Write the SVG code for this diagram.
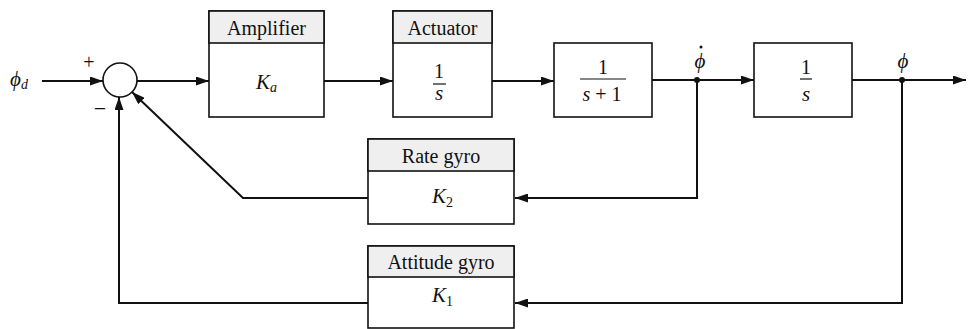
<svg xmlns="http://www.w3.org/2000/svg" width="972" height="329" viewBox="0 0 972 329">
<defs>
<marker id="arr" viewBox="0 0 13 9" refX="13" refY="4.5" markerWidth="13" markerHeight="9" markerUnits="userSpaceOnUse" orient="auto">
<path d="M0,0 L13,4.5 L0,9 z" fill="#111"/>
</marker>
</defs>
<style>
.box{fill:#fff;stroke:#111;stroke-width:1.6}
.hdr{fill:#efefef;stroke:#111;stroke-width:1.6}
.ln{fill:none;stroke:#111;stroke-width:2}
.lbl{font-family:"Liberation Serif","Times New Roman",serif;font-size:20px;fill:#111;text-anchor:middle}
.math{font-family:"Liberation Serif","Times New Roman",serif;font-size:21px;font-style:italic;fill:#111}
.num{font-family:"Liberation Serif","Times New Roman",serif;font-size:20px;fill:#111;text-anchor:middle}
.sub{font-size:14px}
.frac{stroke:#111;stroke-width:1.2}
</style>
<rect width="972" height="329" fill="#fff"/>

<g id="connectors">
<line class="ln" x1="42" y1="81" x2="103" y2="81" marker-end="url(#arr)"/>
<line class="ln" x1="137" y1="81" x2="209" y2="81" marker-end="url(#arr)"/>
<line class="ln" x1="324" y1="81" x2="393" y2="81" marker-end="url(#arr)"/>
<line class="ln" x1="492" y1="81" x2="554" y2="81" marker-end="url(#arr)"/>
<line class="ln" x1="652" y1="80" x2="754" y2="80" marker-end="url(#arr)"/>
<line class="ln" x1="852" y1="80" x2="966" y2="80" marker-end="url(#arr)"/>
<polyline class="ln" points="697,80 697,198 515,198" marker-end="url(#arr)"/>
<polyline class="ln" points="368,198 243,198 132,92" marker-end="url(#arr)"/>
<polyline class="ln" points="902,80 902,303 515,303" marker-end="url(#arr)"/>
<polyline class="ln" points="368,303 119,303 119,97" marker-end="url(#arr)"/>
<circle cx="697" cy="80" r="3" fill="#111"/>
<circle cx="902" cy="80" r="3" fill="#111"/>
</g>

<g id="input">
<text class="math" x="10" y="86">ϕ<tspan class="sub" dy="3">d</tspan></text>
</g>

<g id="summer">
<circle cx="120" cy="80" r="17" fill="#fff" stroke="#111" stroke-width="1.6"/>
<text class="lbl" x="89" y="69" style="font-size:20px">+</text>
<text class="lbl" x="100" y="116" style="font-size:22px">−</text>
</g>

<g id="amplifier">
<rect class="box" x="209" y="11" width="115" height="106"/>
<rect class="hdr" x="209" y="11" width="115" height="32"/>
<text class="lbl" x="266.5" y="35">Amplifier</text>
<text class="math" x="256" y="89">K<tspan class="sub" dy="3">a</tspan></text>
</g>

<g id="actuator">
<rect class="box" x="393" y="11" width="99" height="106"/>
<rect class="hdr" x="393" y="11" width="99" height="32"/>
<text class="lbl" x="442.5" y="35">Actuator</text>
<text class="num" x="439" y="78">1</text>
<line class="frac" x1="433" y1="84" x2="446" y2="84"/>
<text class="math" x="439" y="100" text-anchor="middle">s</text>
</g>

<g id="plant1">
<rect class="box" x="554" y="43" width="98" height="74"/>
<text class="num" x="603" y="74">1</text>
<line class="frac" x1="580" y1="79" x2="626" y2="79"/>
<text class="num" x="602" y="101"><tspan font-style="italic">s</tspan> + 1</text>
</g>

<g id="plant2">
<rect class="box" x="754" y="43" width="98" height="74"/>
<text class="num" x="806" y="74">1</text>
<line class="frac" x1="800" y1="79" x2="812" y2="79"/>
<text class="math" x="806" y="101" text-anchor="middle">s</text>
</g>

<g id="phidot">
<text class="math" x="700" y="68" text-anchor="middle">ϕ</text>
<circle cx="701" cy="47" r="1.5" fill="#111"/>
</g>

<g id="phi">
<text class="math" x="903" y="68" text-anchor="middle">ϕ</text>
</g>

<g id="rategyro">
<rect class="box" x="368" y="139" width="146" height="85"/>
<rect class="hdr" x="368" y="139" width="146" height="32"/>
<text class="lbl" x="441" y="163">Rate gyro</text>
<text class="math" x="432" y="203">K<tspan class="sub" font-style="normal" dy="4">2</tspan></text>
</g>

<g id="attitudegyro">
<rect class="box" x="368" y="246" width="146" height="82"/>
<rect class="hdr" x="368" y="246" width="146" height="31"/>
<text class="lbl" x="441" y="269">Attitude gyro</text>
<text class="math" x="432" y="302">K<tspan class="sub" font-style="normal" dy="4">1</tspan></text>
</g>
</svg>
